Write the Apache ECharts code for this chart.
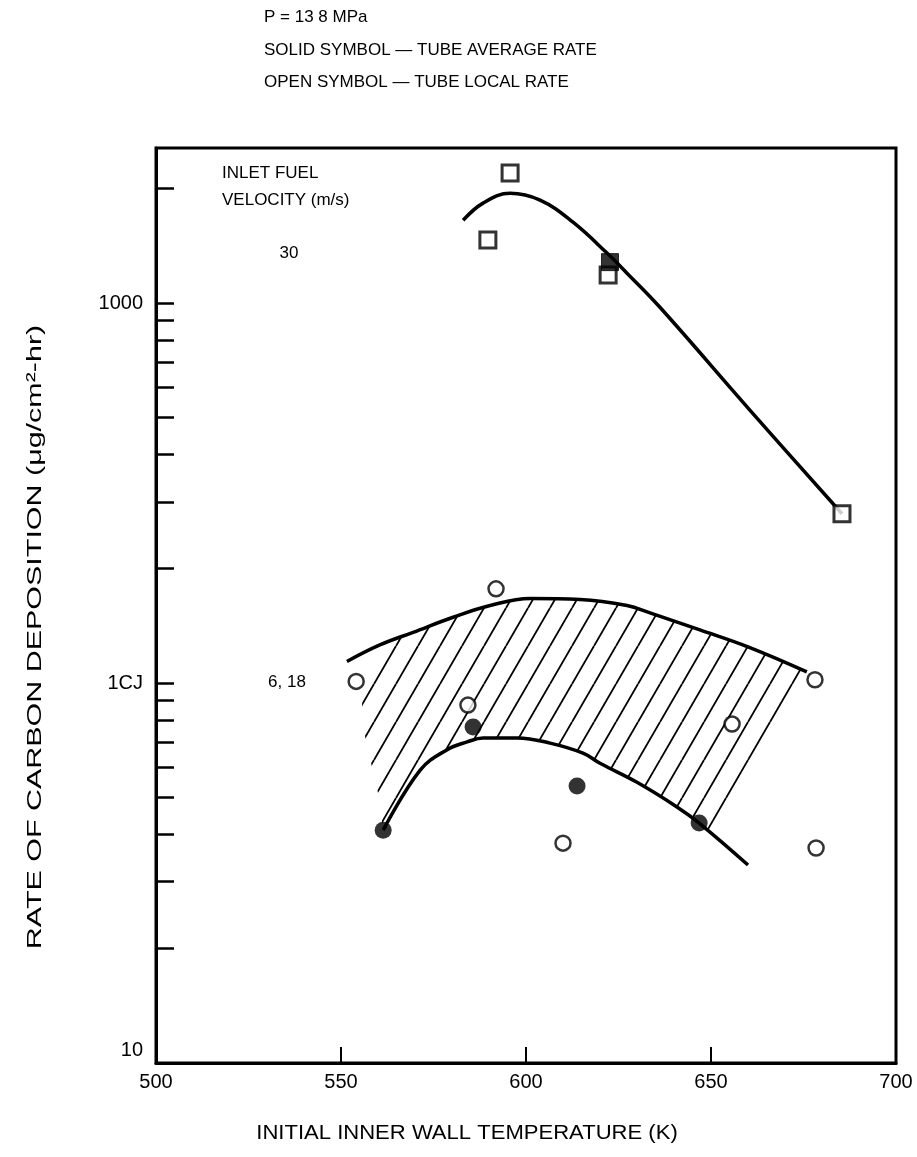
<!DOCTYPE html>
<html><head><meta charset="utf-8">
<script src="https://cdn.jsdelivr.net/npm/echarts@6/dist/echarts.min.js"></script>
<style>html,body{margin:0;padding:0;background:#fff}#c{width:917px;height:1157px}</style>
</head><body><div id="c"></div>
<script>
// ---- axes ----
const xMin = 500, xMax = 700, xInterval = 50;
const xTickValues = [550, 600, 650];
const yMin = 10, yMax = 2560;
const yLabelValues = [10, 100, 1000];
const yTickValues = [20, 30, 40, 50, 60, 70, 80, 90, 100, 200, 300, 400, 500, 600, 700, 800, 900, 1000, 2000];

// ---- inlet velocity 30 m/s ----
const v30OpenSquares = [[595.7, 2200], [589.7, 1466], [622.2, 1186], [685.4, 279]];
const v30SolidSquares = [[622.7, 1282]];
const v30Curve = [[583.0, 1652], [588.4, 1833], [595.7, 1945], [603.8, 1866], [612.7, 1633], [621.9, 1354], [627.3, 1199], [636.2, 975], [660.5, 523], [685.4, 279]];

// ---- inlet velocity 6, 18 m/s ----
const v618OpenCircles = [[554.1, 101], [591.9, 177], [584.3, 87.5], [610.0, 37.9], [655.7, 78], [678.1, 102], [678.4, 36.8]];
const v618SolidCircles = [[561.4, 41.0], [585.7, 76.6], [613.8, 53.6], [646.8, 42.8]];
const v618UpperCurve = [[551.6, 114], [560.5, 126], [569.5, 136], [580.3, 149], [590.3, 160], [601.1, 167], [614.6, 166], [627.3, 160], [633.5, 153], [647.0, 138], [660.5, 124], [675.9, 107]];
const v618LowerCurve = [[561.4, 41.0], [571.4, 59.0], [578.6, 66.7], [584.1, 70.0], [588.4, 71.7], [597.6, 71.7], [606.5, 69.5], [615.4, 65.4], [620.0, 61.5], [630.0, 54.8], [640.8, 47.2], [646.8, 42.8], [660.0, 33.2]];
const hatchBoundary = [[560.5, 126], [569.5, 136], [580.3, 149], [590.3, 160], [601.1, 167], [614.6, 166], [627.3, 160], [633.5, 153], [647.0, 138], [660.5, 124], [675.9, 107],
  [651.0, 40], [646.8, 42.8], [640.8, 47.2], [630.0, 54.8], [620.0, 61.5], [615.4, 65.4], [606.5, 69.5], [597.6, 71.7], [588.4, 71.7], [584.1, 70.0], [578.6, 66.7], [571.4, 59.0], [561.4, 41.0],
  [560.0, 51.4], [557.8, 63.5], [555.7, 78.5], [555.7, 106]];

// hatch pattern
const hatch = document.createElement('canvas');
hatch.width = 22; hatch.height = 38;
(function () {
  const g = hatch.getContext('2d');
  g.strokeStyle = '#000'; g.lineWidth = 1.8;
  for (let k = -1; k <= 1; k++) {
    g.beginPath(); g.moveTo(k * 22, 38); g.lineTo(22 + k * 22, 0); g.stroke();
  }
})();

const FONT = '"Liberation Sans", Arial, Helvetica, sans-serif';
const chart = echarts.init(document.getElementById('c'), null, { renderer: 'canvas' });

chart.setOption({
  backgroundColor: '#fff',
  animation: false,
  grid: { left: 156, right: 21, top: 148, bottom: 94, show: true, borderColor: '#000', borderWidth: 3, backgroundColor: 'transparent' },
  xAxis: {
    type: 'value', min: xMin, max: xMax, interval: xInterval,
    axisLine: { lineStyle: { color: '#000', width: 3 } },
    axisTick: { inside: true, length: 16, lineStyle: { color: '#000', width: 2 }, customValues: xTickValues },
    axisLabel: { color: '#000', fontFamily: FONT, fontSize: 20, margin: 9 },
    splitLine: { show: false }
  },
  yAxis: {
    type: 'log', logBase: 10, min: yMin, max: yMax,
    axisLine: { lineStyle: { color: '#000', width: 3 } },
    axisTick: { inside: true, length: 18, lineStyle: { color: '#000', width: 2.5 }, customValues: yTickValues },
    axisLabel: {
      color: '#000', fontFamily: FONT, fontSize: 20, margin: 13, customValues: yLabelValues,
      formatter: function (v) {
        const r = Math.round(v);
        if (r === 10) return '{up|10}';
        return r === 100 ? '1CJ' : String(r);
      },
      rich: { up: { fontFamily: FONT, fontSize: 20, color: '#000', padding: [0, 0, 26, 0] } }
    },
    splitLine: { show: false }, minorTick: { show: false }
  },
  graphic: [
    { type: 'text', x: 264, y: 17, style: { text: 'P = 13 8 MPa', font: '17px ' + FONT, fill: '#000', align: 'left', verticalAlign: 'middle' } },
    { type: 'text', x: 264, y: 50, style: { text: 'SOLID SYMBOL — TUBE AVERAGE RATE', font: '17px ' + FONT, fill: '#000', align: 'left', verticalAlign: 'middle' } },
    { type: 'text', x: 264, y: 82, style: { text: 'OPEN SYMBOL — TUBE LOCAL RATE', font: '17px ' + FONT, fill: '#000', align: 'left', verticalAlign: 'middle' } },
    { type: 'text', x: 222, y: 173, style: { text: 'INLET FUEL', font: '17px ' + FONT, fill: '#000', align: 'left', verticalAlign: 'middle' } },
    { type: 'text', x: 222, y: 200, style: { text: 'VELOCITY (m/s)', font: '17px ' + FONT, fill: '#000', align: 'left', verticalAlign: 'middle' } },
    { type: 'text', x: 289, y: 253, style: { text: '30', font: '17px ' + FONT, fill: '#000', align: 'center', verticalAlign: 'middle' } },
    { type: 'text', x: 287, y: 682, style: { text: '6, 18', font: '17px ' + FONT, fill: '#000', align: 'center', verticalAlign: 'middle' } },
    { type: 'text', x: 467, y: 1133, scaleX: 1.05, style: { text: 'INITIAL INNER WALL TEMPERATURE (K)', font: '21px ' + FONT, fill: '#000', align: 'center', verticalAlign: 'middle' } },
    { type: 'text', x: 35, y: 637, rotation: Math.PI / 2, scaleX: 1.45, style: { text: 'RATE OF CARBON DEPOSITION (μg/cm²-hr)', font: '21px ' + FONT, fill: '#000', align: 'center', verticalAlign: 'middle' } }
  ],
  series: [
    {
      type: 'custom', z: 1, silent: true, data: [hatchBoundary[0]],
      renderItem: function (params, api) {
        const pts = hatchBoundary.map(function (p) { return api.coord(p); });
        return { type: 'polygon', shape: { points: pts }, style: { fill: { image: hatch, repeat: 'repeat' }, stroke: null } };
      }
    },
    { type: 'line', z: 2, data: v30Curve, smooth: 0.4, symbol: 'none', lineStyle: { color: '#000', width: 3.5 } },
    { type: 'line', z: 2, data: v618UpperCurve, smooth: 0.4, symbol: 'none', lineStyle: { color: '#000', width: 3.5 } },
    { type: 'line', z: 2, data: v618LowerCurve, smooth: 0.4, symbol: 'none', lineStyle: { color: '#000', width: 3.5 } },
    { type: 'scatter', z: 3, data: v30OpenSquares, symbol: 'rect', symbolSize: 16, itemStyle: { color: '#fff', borderColor: '#000', borderWidth: 3 } },
    { type: 'scatter', z: 4, data: v30SolidSquares, symbol: 'rect', symbolSize: 17, itemStyle: { color: '#000', borderColor: '#000', borderWidth: 1 } },
    { type: 'scatter', z: 3, data: v618OpenCircles, symbol: 'circle', symbolSize: 15, itemStyle: { color: '#fff', borderColor: '#000', borderWidth: 2.5 } },
    { type: 'scatter', z: 3, data: v618SolidCircles, symbol: 'circle', symbolSize: 17, itemStyle: { color: '#000' } }
  ]
});
</script>
</body></html>
